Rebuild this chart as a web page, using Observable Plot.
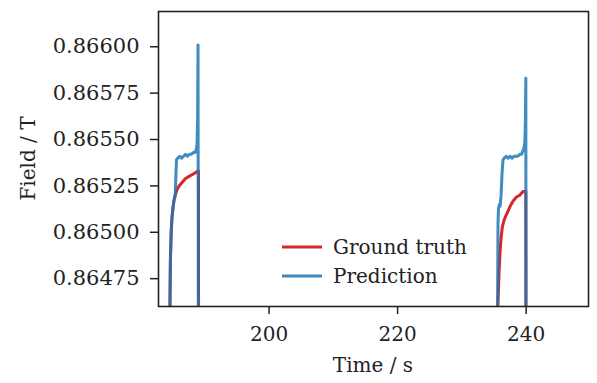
<!DOCTYPE html>
<html>
<head>
<meta charset="utf-8">
<script src="https://cdn.jsdelivr.net/npm/d3@7"></script>
<script src="https://cdn.jsdelivr.net/npm/@observablehq/plot@0.6"></script>
<style>
  html, body { margin: 0; padding: 0; background: #fff; }
  #chart { width: 597px; height: 383px; }
</style>
</head>
<body>
<div id="chart"></div>
<script>
// ---- data ----
const OFF = 0.8630; // values below the visible range (clipped)

const truthTime = [184.55, 184.58, 184.65, 184.77, 184.9, 185.05, 185.2, 185.4, 185.7, 186.0, 186.5, 187.0, 187.5, 188.0, 188.5, 188.9, 189.02, 189.05,
                   235.55, 235.6, 235.8, 235.95, 236.1, 236.3, 236.6, 237.0, 237.5, 238.0, 238.5, 239.0, 239.5, 239.95, 240.0];
const truthField = [OFF, 0.8646, 0.86485, 0.86500, 0.86508, 0.86513, 0.86517, 0.86520, 0.86523, 0.86525, 0.86527, 0.86529, 0.86530, 0.86531, 0.86532, 0.86533, 0.86533, OFF,
                    OFF, 0.8646, 0.86480, 0.86490, 0.86497, 0.86503, 0.86507, 0.86510, 0.86514, 0.86517, 0.86519, 0.86520, 0.86522, 0.86522, OFF];

const predTime = [184.55, 184.58, 184.65, 184.77, 184.9, 185.05, 185.2, 185.4, 185.5, 185.6, 185.8, 186.1, 186.4, 186.7, 187.0, 187.3, 187.6, 187.9, 188.2, 188.5, 188.7, 188.8, 188.88, 188.95, 189.05,
                  235.5, 235.55, 235.62, 235.7, 235.85, 235.95, 236.1, 236.25, 236.4, 236.6, 236.9, 237.2, 237.5, 237.8, 238.1, 238.4, 238.7, 239.0, 239.3, 239.5, 239.7, 239.8, 239.88, 239.95, 240.0];
const predField = [OFF, 0.8646, 0.86485, 0.86500, 0.86508, 0.86513, 0.86517, 0.86520, 0.86530, 0.86539, 0.86540, 0.86541, 0.86540, 0.86541, 0.86542, 0.86541, 0.86542, 0.86542, 0.86543, 0.86543, 0.86545, 0.86548, 0.86560, 0.86601, OFF,
                   OFF, 0.8646, 0.86505, 0.86513, 0.86515, 0.86514, 0.86520, 0.86532, 0.86539, 0.86540, 0.86541, 0.86540, 0.86541, 0.86540, 0.86541, 0.86541, 0.86541, 0.86542, 0.86542, 0.86544, 0.86546, 0.86549, 0.86560, 0.86583, OFF];

const xTicks = [200, 220, 240];
const yTicks = [0.86475, 0.86500, 0.86525, 0.86550, 0.86575, 0.86600];
const seriesNames = ["Ground truth", "Prediction"];
const seriesColors = ["#d62728", "#1f77b4"];

const truth = truthTime.map((t, i) => ({t, v: truthField[i]}));
const pred = predTime.map((t, i) => ({t, v: predField[i]}));

const W = 597, H = 383;
const mL = 158, mR = 9, mT = 11, mB = 77;
const font = "DejaVu Serif";
const fs = 20;
const tfs = 21;

const plot = Plot.plot({
  width: W, height: H,
  marginLeft: mL, marginRight: mR, marginTop: mT, marginBottom: mB,
  style: {fontFamily: font, fontSize: fs + "px", color: "#222", background: "#fff", overflow: "visible"},
  x: {domain: [182.8, 249.7]},
  y: {domain: [0.8646, 0.86619]},
  marks: [
    Plot.lineY(truth, {x: "t", y: "v", stroke: seriesColors[0], strokeWidth: 3, clip: true}),
    Plot.lineY(pred, {x: "t", y: "v", stroke: seriesColors[1], strokeWidth: 3, strokeOpacity: 0.85, clip: true}),
    Plot.axisX({ticks: xTicks, tickSize: 8, tickPadding: 12, tickFormat: d => String(d), label: null, strokeWidth: 1.5, fontSize: fs, fontFamily: font}),
    Plot.axisY({ticks: yTicks, tickSize: 8, tickPadding: 11, tickFormat: d3.format(".5f"), label: null, strokeWidth: 1.5, fontSize: tfs, fontFamily: font}),
    Plot.frame({stroke: "#222", strokeWidth: 1.6})
  ]
});

const svg = d3.select(plot);
// axis labels
svg.append("text")
  .attr("x", (mL + W - mR) / 2).attr("y", 372)
  .attr("text-anchor", "middle")
  .attr("font-family", font).attr("font-size", fs).attr("fill", "#222")
  .text("Time / s");
svg.append("text")
  .attr("transform", `translate(28,${(mT + H - mB) / 2}) rotate(-90)`)
  .attr("text-anchor", "middle").attr("dominant-baseline", "central")
  .attr("font-family", font).attr("font-size", fs).attr("fill", "#222")
  .text("Field / T");
// legend
const legendRows = [247, 276];
seriesNames.forEach((name, i) => {
  const y = legendRows[i];
  svg.append("line")
    .attr("x1", 282).attr("x2", 322).attr("y1", y).attr("y2", y)
    .attr("stroke", seriesColors[i]).attr("stroke-width", 3)
    .attr("stroke-opacity", i === 1 ? 0.85 : 1);
  svg.append("text")
    .attr("x", 333).attr("y", y).attr("dy", "0.35em")
    .attr("text-anchor", "start")
    .attr("font-family", font).attr("font-size", fs).attr("fill", "#222")
    .text(name);
});

document.getElementById("chart").appendChild(plot);
</script>
</body>
</html>
